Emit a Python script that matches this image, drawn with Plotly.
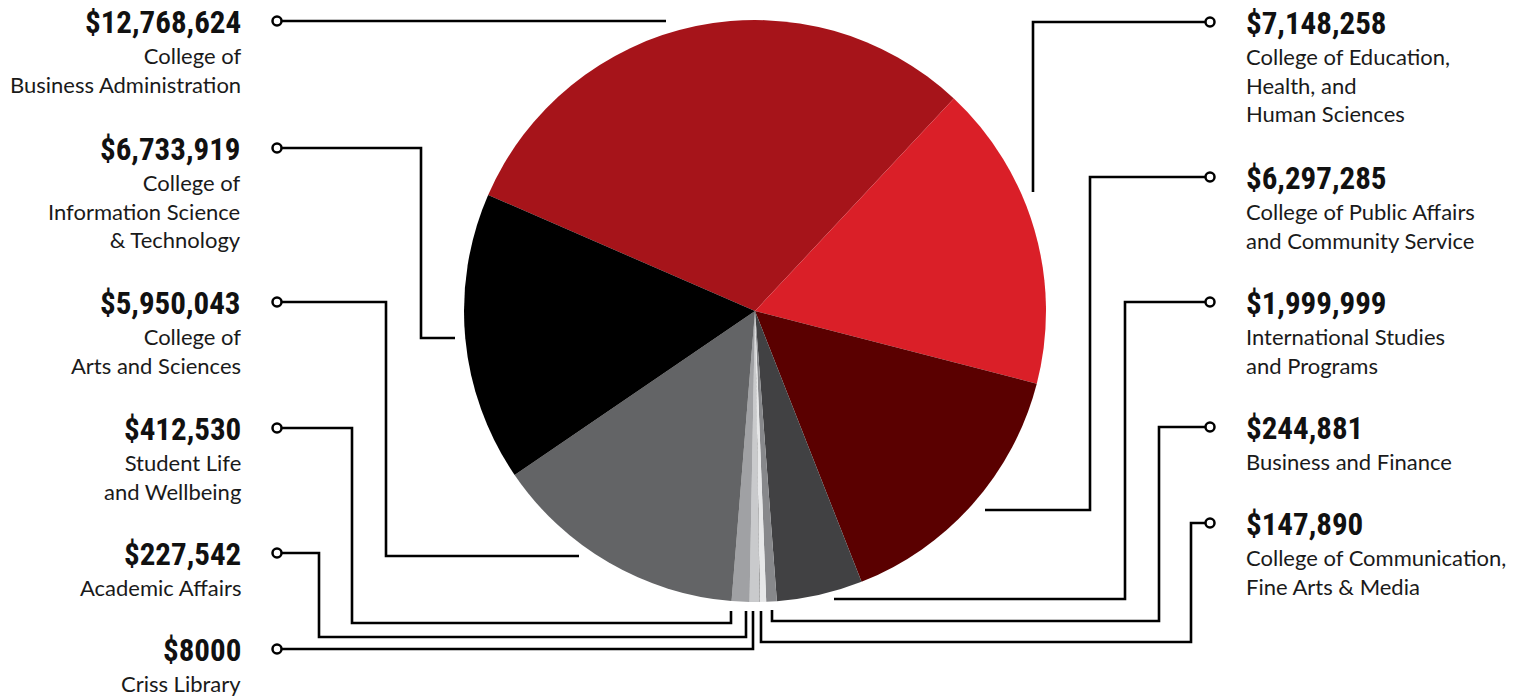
import plotly.graph_objects as go

# ---------------- data ----------------
units = [
    "College of Business Administration",
    "College of Education, Health, and Human Sciences",
    "College of Public Affairs and Community Service",
    "International Studies and Programs",
    "Business and Finance",
    "College of Communication, Fine Arts & Media",
    "Criss Library",
    "Academic Affairs",
    "Student Life and Wellbeing",
    "College of Arts and Sciences",
    "College of Information Science & Technology",
]
amounts = [12768624, 7148258, 6297285, 1999999, 244881, 147890,
           8000, 227542, 412530, 5950043, 6733919]
amount_labels = ["$12,768,624", "$7,148,258", "$6,297,285", "$1,999,999",
                 "$244,881", "$147,890", "$8000", "$227,542", "$412,530",
                 "$5,950,043", "$6,733,919"]
label_lines = [
    "College of<br>Business Administration",
    "College of Education,<br>Health, and<br>Human Sciences",
    "College of Public Affairs<br>and Community Service",
    "International Studies<br>and Programs",
    "Business and Finance",
    "College of Communication,<br>Fine Arts & Media",
    "Criss Library",
    "Academic Affairs",
    "Student Life<br>and Wellbeing",
    "College of<br>Arts and Sciences",
    "College of<br>Information Science<br>& Technology",
]

# ---------------- styling / layout ----------------
slice_colors = ["#A6141A", "#DA1F28", "#5A0000", "#414143", "#87888B",
                "#E6E7E8", "#000000", "#C9CACC", "#A0A1A4", "#636466", "#000000"]
OFF = 8                      # page body margin
W, H = 1520, 688             # figure size (fits the 1528x696 window)
CX, CY, R = 755, 311, 291    # pie centre/radius in page pixels

# label side and leader-line routes (page pixel coords)
sides = ["L", "R", "R", "R", "R", "R", "L", "L", "L", "L", "L"]
leader_paths = [
    [(277, 21), (666, 21)],
    [(1210, 22), (1033, 22), (1033, 192)],
    [(1210, 177), (1090, 177), (1090, 510), (985, 510)],
    [(1210, 302), (1125, 302), (1125, 599), (834, 599)],
    [(1210, 427), (1159, 427), (1159, 621), (772, 621), (772, 610)],
    [(1210, 523), (1191, 523), (1191, 642), (761, 642), (761, 611)],
    [(277, 649), (753, 649), (753, 611)],
    [(277, 553), (319, 553), (319, 637), (746, 637), (746, 611)],
    [(277, 428), (352, 428), (352, 623), (731, 623), (731, 611)],
    [(277, 302), (386, 302), (386, 556), (579, 556)],
    [(277, 148), (421, 148), (421, 338), (455, 338)],
]

NUM_FONT = ("Noto Sans ExtraCondensed, Noto Sans Condensed, Roboto Condensed, "
            "Liberation Sans Narrow, Arial Narrow, DejaVu Sans Condensed, sans-serif")
TXT_FONT = "Lato, Open Sans, sans-serif"

fig = go.Figure()

fig.add_trace(go.Pie(
    labels=units,
    values=amounts,
    sort=False,
    direction="clockwise",
    rotation=-66.5,
    marker=dict(colors=slice_colors, line=dict(width=0)),
    textinfo="none",
    hoverinfo="label+value",
    showlegend=False,
    domain=dict(x=[(CX - R - OFF) / W, (CX + R - OFF) / W],
                y=[1 - (CY + R - OFF) / H, 1 - (CY - R - OFF) / H]),
))

annotations = []
for i, path in enumerate(leader_paths):
    xs = [p[0] for p in path]
    ys = [p[1] for p in path]
    fig.add_trace(go.Scatter(
        x=xs, y=ys, mode="lines",
        line=dict(color="#000000", width=2.6),
        hoverinfo="skip", showlegend=False,
    ))
    fig.add_trace(go.Scatter(
        x=[xs[0]], y=[ys[0]], mode="markers",
        marker=dict(symbol="circle", size=9, color="#ffffff",
                    line=dict(color="#000000", width=2.5)),
        hoverinfo="skip", showlegend=False,
    ))
    left = sides[i] == "L"
    tx = 243 if left else 1244
    anchor = "right" if left else "left"
    annotations.append(dict(
        x=tx, y=ys[0] + 1, xref="x", yref="y", xanchor=anchor, yanchor="middle",
        text="<b>" + amount_labels[i] + "</b>", showarrow=False,
        font=dict(family=NUM_FONT, size=31, color="#111111"),
    ))
    annotations.append(dict(
        x=tx, y=ys[0] + 19, xref="x", yref="y", xanchor=anchor, yanchor="top",
        align=anchor, text=label_lines[i], showarrow=False,
        font=dict(family=TXT_FONT, size=22, color="#1a1a1a"),
    ))

fig.update_layout(
    width=W, height=H,
    margin=dict(l=0, r=0, t=0, b=0),
    paper_bgcolor="#ffffff", plot_bgcolor="rgba(0,0,0,0)",
    xaxis=dict(range=[OFF, OFF + W], visible=False, fixedrange=True),
    yaxis=dict(range=[OFF + H, OFF], visible=False, fixedrange=True),
    annotations=annotations,
    showlegend=False,
)

fig.write_html("out.html")
